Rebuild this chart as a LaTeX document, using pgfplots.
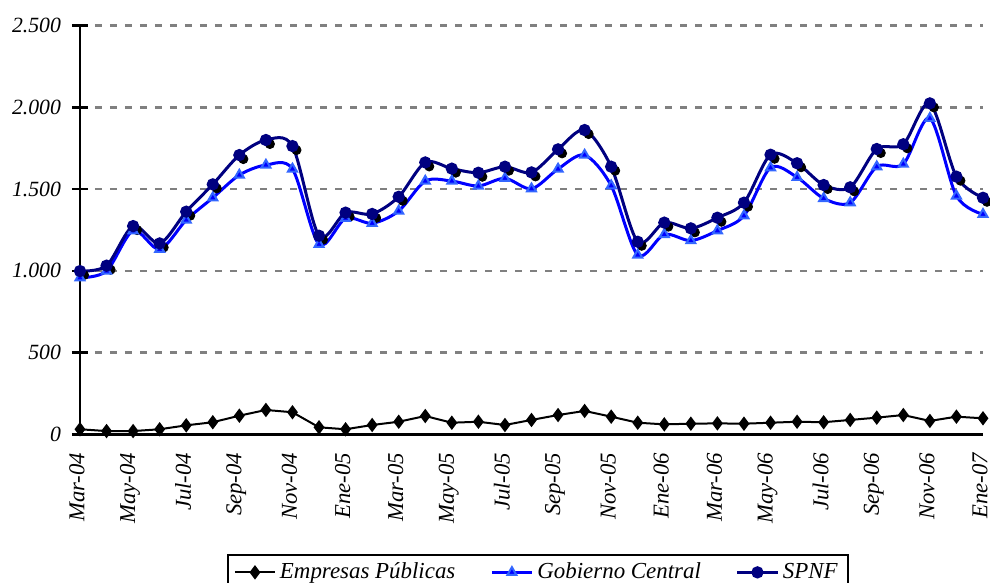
\documentclass[border=0pt]{standalone}
\usepackage{fontspec}
\setmainfont{Liberation Serif}
\usepackage{pgfplots}
\usepackage{pgfplotstable}
\pgfplotsset{compat=1.18}
\definecolor{navyc}{RGB}{0,0,128}
\definecolor{bluec}{RGB}{0,0,255}
\definecolor{lightb}{RGB}{51,102,255}
\definecolor{gridc}{RGB}{128,128,128}

\pgfplotstableread{
x ep gc spnf
0 32 958 999
1 21 999 1032
2 21 1246 1274
3 32 1132 1168
4 56 1311 1362
5 75 1447 1529
6 115 1586 1708
7 150 1647 1800
8 136 1623 1763
9 44 1162 1215
10 32 1321 1356
11 58 1291 1348
12 78 1366 1453
13 113 1549 1663
14 72 1549 1625
15 78 1519 1600
16 58 1566 1637
17 89 1502 1602
18 119 1623 1743
19 144 1708 1861
20 109 1521 1637
21 72 1097 1178
22 62 1223 1295
23 66 1185 1260
24 68 1246 1325
25 66 1337 1417
26 72 1631 1710
27 78 1572 1658
28 75 1443 1525
29 89 1417 1511
30 103 1637 1745
31 119 1653 1774
32 83 1933 2024
33 109 1458 1576
34 99 1346 1447
}\datatable

\begin{document}
\begin{tikzpicture}
\begin{axis}[
  scale only axis, width=451.5bp, height=204.5bp,
  xmin=0, xmax=34, ymin=0, ymax=2500,
  axis x line=bottom, axis y line=left,
  axis line style={-, line width=1.3bp, black},
  xtick={0,2,...,34},
  xticklabels={Mar-04,May-04,Jul-04,Sep-04,Nov-04,Ene-05,Mar-05,May-05,Jul-05,Sep-05,Nov-05,Ene-06,Mar-06,May-06,Jul-06,Sep-06,Nov-06,Ene-07},
  xticklabel style={xshift=-1.5bp, yshift=-4bp, rotate=90, anchor=east, inner sep=1bp, font=\fontsize{11.4}{12}\selectfont\itshape},
  x tick style={draw=none},
  ytick={0,500,...,2500},
  y tick style={line width=1.3bp, black},
  tick align=center, major tick length=8bp,
  yticklabel style={xshift=-2bp, font=\fontsize{10.9}{12}\selectfont\itshape},
  /pgf/number format/assume math mode=true,
  /pgf/number format/1000 sep={.},
  scaled y ticks=false,
  ymajorgrids,
  grid style={gridc, line width=1.3bp, dash pattern=on 3.5bp off 4bp},
  clip=false,
  legend style={at={(0.507,-0.292)}, anchor=north, legend columns=3, draw=black, line width=1bp,
    font=\fontsize{11.5}{12.5}\selectfont\itshape,
    /tikz/every even column/.append style={column sep=15.5bp}},
  legend cell align=left,
  legend image code/.code={\draw[mark repeat=2,mark phase=2,#1] plot coordinates {(0bp,0bp) (10bp,0bp) (20bp,0bp)};},
]
\addplot[black, line width=1bp, mark=diamond*, mark size=2.8bp, mark options={fill=black, solid}] table[x=x,y=ep]{\datatable};
\addlegendentry{Empresas Públicas}
\addplot[forget plot, only marks, mark=*, mark size=2.3bp, black, mark options={fill=black, xshift=2bp, yshift=-2bp}] table[x=x,y=spnf]{\datatable};
\addplot[bluec, line width=1.5bp, smooth, mark=triangle*, mark size=2.6bp, mark options={fill=bluec, draw=lightb, line width=1bp, solid}] table[x=x,y=gc]{\datatable};
\addlegendentry{Gobierno Central}
\addplot[navyc, line width=1.5bp, smooth, mark=*, mark size=2.3bp, mark options={fill=navyc, solid}] table[x=x,y=spnf]{\datatable};
\addlegendentry{SPNF}
\coordinate (O) at (rel axis cs:0,0);
\end{axis}
\pgfresetboundingbox
\path ([shift={(-40bp,-74.25bp)}]O) rectangle ([shift={(455bp,217.25bp)}]O);
\end{tikzpicture}
\end{document}
